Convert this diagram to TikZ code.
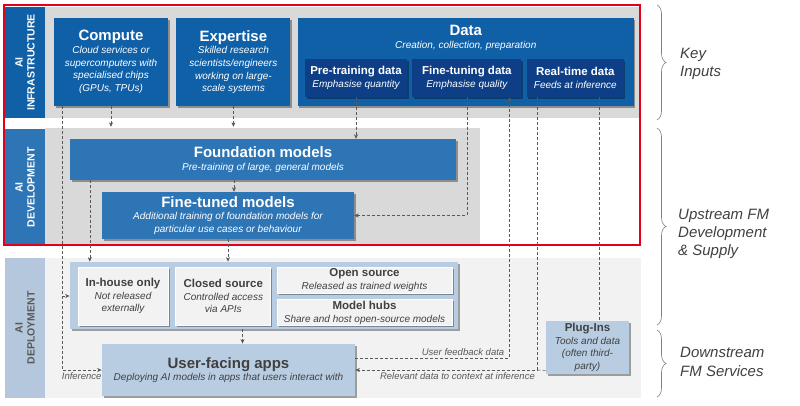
\documentclass[tikz,border=0pt]{standalone}
\usepackage{fontspec}
\setmainfont{Liberation Sans}
\usetikzlibrary{positioning,calc,shadows,arrows.meta,decorations.pathreplacing}
\definecolor{infrablue}{HTML}{1060A8}
\definecolor{datanavy}{HTML}{0E3F86}
\definecolor{devblue}{HTML}{2E75B6}
\definecolor{deploybox}{HTML}{B9CDE2}
\definecolor{deploystrip}{HTML}{B4C7DC}
\definecolor{bandgray}{HTML}{D9D9D9}
\definecolor{bandlight}{HTML}{F2F2F2}
\definecolor{textdark}{HTML}{404040}
\definecolor{textmid}{HTML}{595959}
\definecolor{linegray}{HTML}{595959}
\definecolor{framered}{HTML}{E3001B}
\newcommand{\boxttl}[1]{{\fontsize{15}{18}\selectfont\bfseries\upshape #1}}
\newcommand{\boxttls}[1]{{\fontsize{11.5}{14}\selectfont\bfseries\upshape #1}}
\tikzset{shad/.style={drop shadow={shadow xshift=1.5pt, shadow yshift=-1.5pt, opacity=0.35, fill=black}}}
\tikzset{strip/.style={rotate=90, inner sep=0pt, align=center, font=\fontsize{10.5}{12}\selectfont\bfseries, minimum height=40pt}}
\tikzset{infobox/.style={shad, fill=infrablue, text=white, align=center, inner sep=0pt, font=\fontsize{10}{12.7}\selectfont\itshape}}
\tikzset{databox/.style={infobox, fill=datanavy, minimum height=38pt}}
\tikzset{devbox/.style={infobox, fill=devblue}}
\tikzset{relbox/.style={shad, fill=bandlight, draw=white, line width=0.8pt, text=textdark, align=center, inner sep=0pt, font=\fontsize{10}{12.5}\selectfont\itshape}}
\tikzset{appbox/.style={relbox, fill=deploybox, draw=none}}
\tikzset{conn/.style={draw=linegray, line width=0.6pt, dash pattern=on 3pt off 2pt}}
\tikzset{arr/.style={conn, -{Stealth[length=4.5pt,width=4pt]}}}
\tikzset{lbl/.style={font=\fontsize{9.5}{11}\selectfont\itshape, text=textmid, inner sep=2pt}}
\tikzset{sidelbl/.style={font=\fontsize{15}{18.3}\selectfont\itshape, text=textdark, align=left, inner sep=0pt, anchor=west}}
\tikzset{bracegray/.style={draw=gray, line width=0.6pt, decorate, decoration={brace, amplitude=9pt}}}

\begin{document}
\begin{tikzpicture}[x=1pt,y=-1pt]
\useasboundingbox (0,0) rectangle (800,405);
% bands
\fill[bandgray] (45,7) rectangle (640,118);
\fill[bandgray] (45,128) rectangle (480,245);
\fill[bandlight] (45,258) rectangle (641,398);
% side strips
\node[strip, fill=infrablue, text=white, minimum width=111pt] (infra) at (25,62.5) {AI\\INFRASTRUCTURE};
\node[strip, fill=devblue, text=white, minimum width=117pt] (dev) at (25,187.5) {AI\\DEVELOPMENT};
\node[strip, fill=deploystrip, text=textmid, minimum width=140pt] (deploy) at (25,328) {AI\\DEPLOYMENT};

% key inputs
\node[infobox, minimum width=114pt, minimum height=88pt] (compute) at (111,62)
  {\boxttl{Compute}\\Cloud services or\\supercomputers with\\specialised chips\\(GPUs, TPUs)};
\node[infobox, minimum width=114pt, minimum height=88pt, right=8pt of compute] (expert)
  {\boxttl{Expertise}\\Skilled research\\scientists/engineers\\working on large-\\scale systems};
\node[infobox, minimum width=336pt, minimum height=88pt, right=7pt of expert] (data) {};
\node[text=white, align=center, inner sep=0pt, font=\fontsize{10}{12.7}\selectfont\itshape, below=7pt of data.north] (datattl)
  {\boxttl{Data}\\Creation, collection, preparation};
\node[databox, minimum width=102pt] (pretrain) at (356,78) {\boxttls{Pre-training data}\\Emphasise quantity};
\node[databox, minimum width=109pt, right=5pt of pretrain] (ftdata) {\boxttls{Fine-tuning data}\\Emphasise quality};
\node[databox, minimum width=97pt, right=5pt of ftdata] (rtdata) {\boxttls{Real-time data}\\Feeds at inference};

% development
\node[devbox, minimum width=386pt, minimum height=41pt] (found) at (263,159.5)
  {\boxttl{Foundation models}\\Pre-training of large, general models};
\node[devbox, minimum width=252pt, minimum height=47pt] (finetuned) at (228,215.5)
  {\boxttl{Fine-tuned models}\\Additional training of foundation models for\\particular use cases or behaviour};

% deployment
\node[appbox, minimum width=388pt, minimum height=67pt] (release) at (264,295.5) {};
\node[relbox, minimum width=90pt, minimum height=58pt] (inhouse) at (123,296) {\boxttls{In-house only}\\Not released\\externally};
\node[relbox, minimum width=95pt, minimum height=58pt, right=7pt of inhouse] (closed) {\boxttls{Closed source}\\Controlled access\\via APIs};
\node[relbox, minimum width=175pt, minimum height=26pt] (open) at (364.5,280) {\boxttls{Open source}\\Released as trained weights};
\node[relbox, minimum width=175pt, minimum height=26pt, below=6pt of open] (hubs) {\boxttls{Model hubs}\\Share and host open-source models};
\node[appbox, minimum width=253pt, minimum height=52pt] (apps) at (228.5,370)
  {\boxttl{User-facing apps}\\Deploying AI models in apps that users interact with};
\node[appbox, minimum width=83pt, minimum height=53pt] (plugins) at (587.5,347.5)
  {\boxttls{Plug-Ins}\\Tools and data\\(often third-\\party)};

% frame round the first two layers
\draw[framered, line width=2pt] (4,5) rectangle (640,245);

% connectors
\draw[arr, shorten >=12pt] (compute.south) -- (compute.south |- found.north);
\draw[arr, shorten >=12pt] (expert.south) -- (expert.south |- found.north);
\draw[arr] (pretrain.south) -- (pretrain.south |- found.north);
\draw[arr] (ftdata.south) |- (finetuned.east);
\draw[arr] ([xshift=6pt]finetuned.north |- found.south) -- ([xshift=6pt]finetuned.north);
\draw[arr] ([xshift=20pt]found.south west) -- ([xshift=20pt]found.south west |- release.north);
\draw[arr] (finetuned.south) -- (finetuned.south |- release.north);
\draw[arr] ([xshift=14pt]apps.north |- release.south) -- ([xshift=14pt]apps.north);
\draw[arr] ([xshift=8pt]compute.south west) |- node[lbl, pos=0.75, below]{Inference} (apps.west);
\draw[arr] ([xshift=8pt]compute.south west |- inhouse.west) -- (release.west |- inhouse.west);
\draw[arr] ([yshift=12pt]apps.east) -| node[lbl, pos=0.49, above left]{User feedback data} ([xshift=-12pt]ftdata.south east);
\draw[arr] ([xshift=11pt]rtdata.south west) |- node[lbl, pos=0.72, below]{Relevant data to context at inference} (apps.east);
\draw[conn] ([yshift=4pt]plugins.south west) -- ([xshift=11pt]rtdata.south west |- apps.east);
\draw[conn] ([xshift=-25pt]rtdata.south east) -- ([xshift=-25pt]rtdata.south east |- plugins.north);

% braces
\draw[bracegray] (657,5) -- (657,120);
\draw[bracegray] (657,128) -- (657,325);
\draw[bracegray] (657,330) -- (657,397);
\node[sidelbl] (keyin) at (680,64) {Key\\Inputs};
\node[sidelbl] (upstream) at (678,234) {Upstream FM\\Development\\\& Supply};
\node[sidelbl] (downstream) at (680,362) {Downstream\\FM Services};
\end{tikzpicture}
\end{document}
